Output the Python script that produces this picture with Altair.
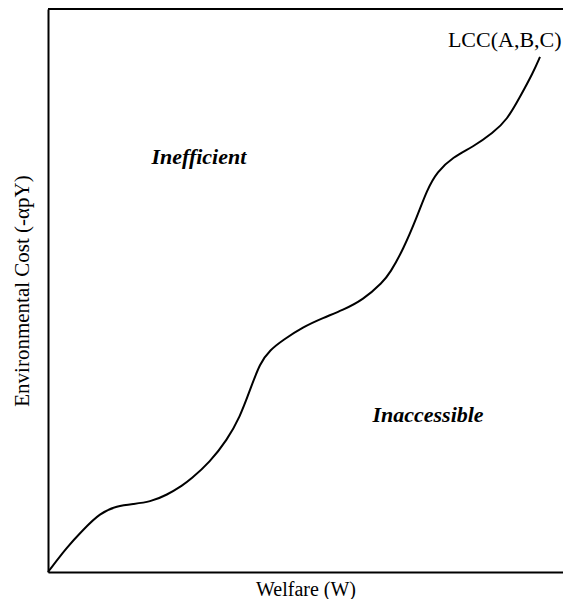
import altair as alt
import pandas as pd

# Curve values (Welfare W, Environmental Cost) in 0-100 units
welfare = [0, 3.64, 6.70, 9.96, 13.22, 16.28, 19.54, 22.80, 25.86, 27.20, 31.03, 34.29,
           36.78, 38.70, 40.61, 42.53, 45.02, 48.85, 52.68, 56.51, 60.34, 64.18, 65.52,
           68.01, 70.69, 72.61, 74.52, 77.59, 81.42, 85.25, 87.93, 90.42, 92.91, 94.25]
cost = [0, 4.43, 7.45, 10.46, 11.70, 12.06, 12.41, 13.65, 15.43, 16.31, 19.50, 23.40,
        27.48, 32.27, 37.06, 39.36, 41.13, 43.44, 45.04, 46.45, 48.23, 51.42, 53.01,
        57.09, 62.94, 67.73, 70.92, 73.58, 75.35, 77.84, 80.14, 84.22, 88.48, 91.31]

label_text = ["LCC(A,B,C)"]
label_x = [87.5]
label_y = [94.3]

region_text = ["Inefficient", "Inaccessible"]
region_x = [28.9, 72.8]
region_y = [73.6, 27.8]

curve_df = pd.DataFrame({"W": welfare, "C": cost})
label_df = pd.DataFrame({"t": label_text, "x": label_x, "y": label_y})
region_df = pd.DataFrame({"t": region_text, "x": region_x, "y": region_y})
top_df = pd.DataFrame({"x": [0], "x2": [98.66], "y": [99.8]})

FONT = "Liberation Serif"

xs = alt.Scale(domain=[0, 98.66], nice=False, zero=False)
ys = alt.Scale(domain=[0, 99.8], nice=False, zero=False)

curve = alt.Chart(curve_df).mark_line(
    color="black", strokeWidth=2, interpolate="basis"
).encode(
    x=alt.X("W:Q", scale=xs, title="Welfare (W)",
            axis=alt.Axis(ticks=False, labels=False, grid=False, domainColor="black",
                          domainWidth=2, titleFont=FONT, titleFontSize=20,
                          titleFontWeight="normal", titleColor="black", titlePadding=7)),
    y=alt.Y("C:Q", scale=ys, title="Environmental Cost (-αpY)",
            axis=alt.Axis(ticks=False, labels=False, grid=False, domainColor="black",
                          domainWidth=2, titleFont=FONT, titleFontSize=21,
                          titleFontWeight="normal", titleColor="black", titlePadding=16)),
)

top = alt.Chart(top_df).mark_rule(color="black", strokeWidth=2).encode(
    x=alt.X("x:Q", scale=xs), x2="x2:Q", y=alt.Y("y:Q", scale=ys)
)

lbl = alt.Chart(label_df).mark_text(
    font=FONT, fontSize=22, color="black", align="center", baseline="middle"
).encode(x=alt.X("x:Q", scale=xs), y=alt.Y("y:Q", scale=ys), text="t:N")

reg = alt.Chart(region_df).mark_text(
    font=FONT, fontSize=22, fontStyle="italic", fontWeight="bold", color="black",
    align="center", baseline="middle"
).encode(x=alt.X("x:Q", scale=xs), y=alt.Y("y:Q", scale=ys), text="t:N")

chart = alt.layer(top, curve, lbl, reg).properties(
    width=515, height=563,
    autosize=alt.AutoSizeParams(type="none"),
    padding={"left": 40, "top": 1, "right": 0, "bottom": 27},
).configure_view(stroke=None).configure(background="white")

chart.save("out.html", embed_options={"renderer": "svg", "actions": False})
